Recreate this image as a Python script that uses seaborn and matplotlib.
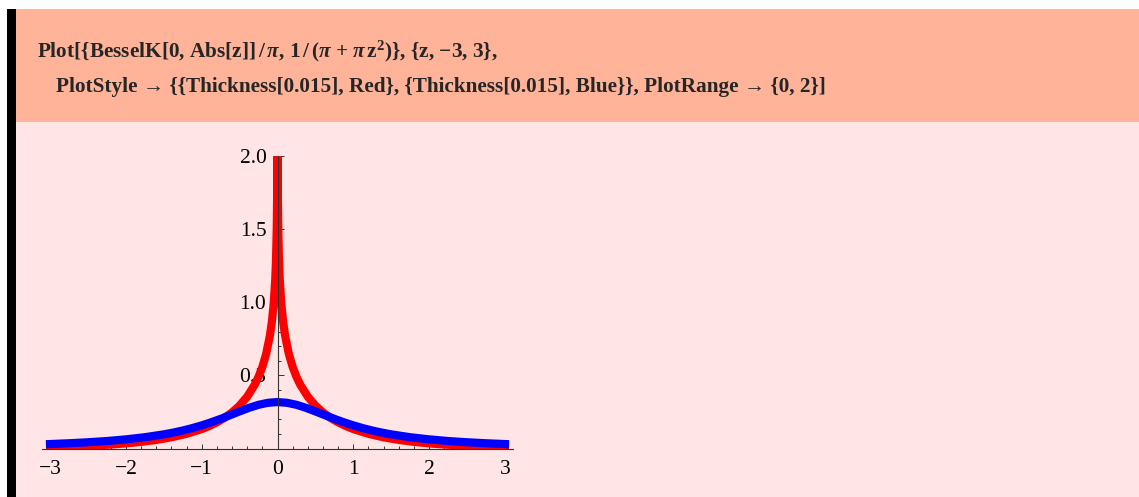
import numpy as np
import pandas as pd
import seaborn as sns
import matplotlib
matplotlib.use("Agg")
import matplotlib.pyplot as plt
from matplotlib.patches import Rectangle
from matplotlib.ticker import MultipleLocator, FixedLocator

# Sampled curve values for z >= 0 (both curves are even in z)
red_z = [0.001, 0.002, 0.005, 0.01, 0.02, 0.03, 0.05, 0.075, 0.1, 0.15, 0.2,
         0.25, 0.3, 0.4, 0.5, 0.6, 0.7, 0.8, 0.9, 1.0, 1.2, 1.4, 1.6, 1.8,
         2.0, 2.2, 2.4, 2.6, 2.8, 3.0]
red_val = [2.236, 2.015, 1.723, 1.5028, 1.2823, 1.1534, 0.9913, 0.8631,
           0.7726, 0.6462, 0.5579, 0.4907, 0.4369, 0.3548, 0.2942, 0.2475,
           0.2102, 0.1799, 0.1549, 0.1340, 0.1014, 0.0776, 0.0598, 0.0464,
           0.0363, 0.0284, 0.0223, 0.0176, 0.0139, 0.0110]

blue_z = [0.0, 0.125, 0.25, 0.375, 0.5, 0.625, 0.75, 0.875, 1.0, 1.125, 1.25,
          1.375, 1.5, 1.75, 2.0, 2.25, 2.5, 2.75, 3.0]
blue_val = [0.3183, 0.3134, 0.2996, 0.2791, 0.2546, 0.2289, 0.2037, 0.1803,
            0.1592, 0.1405, 0.1242, 0.1101, 0.0979, 0.0784, 0.0637, 0.0524,
            0.0439, 0.0372, 0.0318]

x_ticks = [-3, -2, -1, 0, 1, 2, 3]
x_tick_labels = ["−3", "−2", "−1", "0", "1", "2", "3"]
y_ticks = [0.5, 1.0, 1.5, 2.0]
y_tick_labels = ["0.5", "1.0", "1.5", "2.0"]

line1 = (r"Plot[{BesselK[0, Abs[z]]$\,/\,\pi$, 1$\,/\,$($\pi$ + $\pi\,$z$^{2}$)},"
         " {z, −3, 3},")
line2 = ("PlotStyle → {{Thickness[0.015], Red}, {Thickness[0.015], Blue}},"
         " PlotRange → {0, 2}]")


def mirrored(z, v):
    z = np.asarray(z)
    v = np.asarray(v)
    if z[0] == 0:
        return np.concatenate([-z[:0:-1], z]), np.concatenate([v[:0:-1], v])
    return np.concatenate([-z[::-1], z]), np.concatenate([v[::-1], v])


rz, rv = mirrored(red_z, red_val)
bz, bv = mirrored(blue_z, blue_val)
df = pd.concat([
    pd.DataFrame({"z": rz, "value": rv, "curve": "BesselK"}),
    pd.DataFrame({"z": bz, "value": bv, "curve": "Cauchy"}),
], ignore_index=True)

sns.set_style("ticks")
plt.rcParams["font.family"] = ["Liberation Serif", "DejaVu Serif"]
plt.rcParams["mathtext.fontset"] = "custom"
plt.rcParams["mathtext.rm"] = "Liberation Serif:bold"
plt.rcParams["mathtext.it"] = "Liberation Serif:bold:italic"
plt.rcParams["mathtext.bf"] = "Liberation Serif:bold"

W, H = 1139, 497
fig = plt.figure(figsize=(W / 100, H / 100), dpi=100, facecolor="white")

# Notebook cell backgrounds
fig.add_artist(Rectangle((7 / W, 0), (W - 7) / W, 1 - 122 / H,
                         transform=fig.transFigure, facecolor="#FFE5E5",
                         edgecolor="none", zorder=0))
fig.add_artist(Rectangle((7 / W, 1 - 122 / H), (W - 7) / W, 113 / H,
                         transform=fig.transFigure, facecolor="#FFB49A",
                         edgecolor="none", zorder=0))
fig.add_artist(Rectangle((7 / W, 0), 8.5 / W, 1 - 9 / H,
                         transform=fig.transFigure, facecolor="black",
                         edgecolor="none", zorder=1))

fig.text(37 / W, 1 - 57 / H, line1, fontsize=15.3, fontweight="bold",
         ha="left", va="baseline")
fig.text(56 / W, 1 - 92 / H, line2, fontsize=15.3, fontweight="bold",
         ha="left", va="baseline")

ax = fig.add_axes([41.7 / W, (H - 448.7) / H, 471.6 / W, 293 / H])
ax.patch.set_alpha(0)

sns.lineplot(data=df, x="z", y="value", hue="curve",
             palette={"BesselK": "#FF0000", "Cauchy": "#0000FF"},
             linewidth=5.9, legend=False, ax=ax, estimator=None,
             sort=True)
for ln in ax.get_lines():
    ln.set_solid_capstyle("projecting")
    ln.set_solid_joinstyle("round")

ax.set_xlim(-3.11, 3.11)
ax.set_ylim(0, 2)
ax.set_xlabel("")
ax.set_ylabel("")

for side in ("top", "right"):
    ax.spines[side].set_visible(False)
ax.spines["left"].set_position(("data", 0))
for side in ("left", "bottom"):
    ax.spines[side].set_color("#333333")
    ax.spines[side].set_linewidth(0.8)

ax.xaxis.set_major_locator(FixedLocator(x_ticks))
ax.xaxis.set_minor_locator(MultipleLocator(0.2))
ax.set_xticklabels(x_tick_labels)
ax.yaxis.set_major_locator(FixedLocator(y_ticks))
ax.yaxis.set_minor_locator(MultipleLocator(0.1))
ax.set_yticklabels(y_tick_labels)

ax.tick_params(axis="both", which="both", direction="in", color="#333333",
               width=0.7, labelsize=15.5, labelcolor="black")
ax.tick_params(axis="x", which="major", length=3.5, pad=8)
ax.tick_params(axis="x", which="minor", length=2.2)
ax.tick_params(axis="y", which="major", length=4, pad=8)
ax.tick_params(axis="y", which="minor", length=2.2)

fig.savefig("out.png", dpi=100, facecolor="white")
